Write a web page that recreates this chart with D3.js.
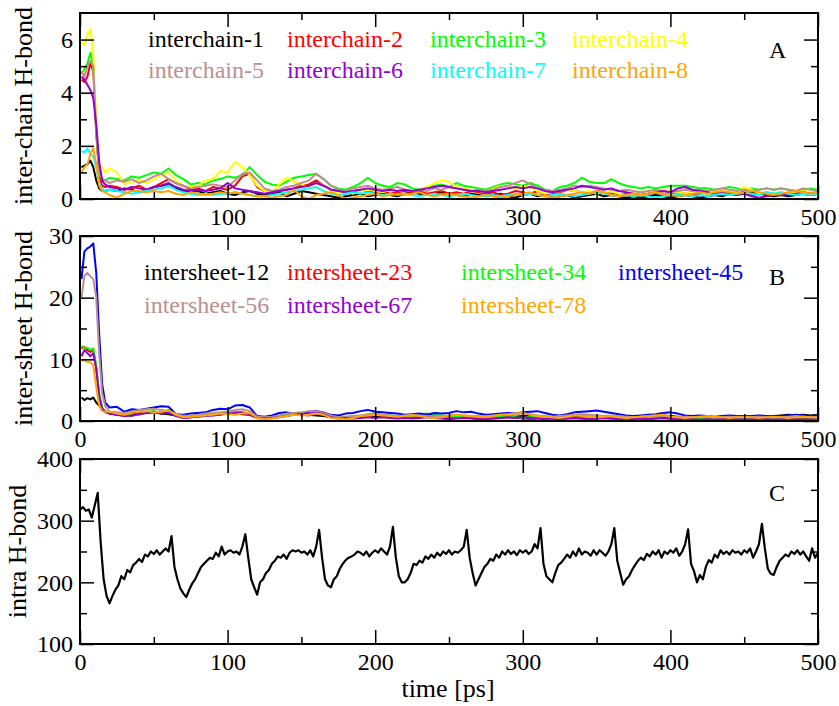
<!DOCTYPE html>
<html>
<head>
<meta charset="utf-8">
<script src="https://cdn.jsdelivr.net/npm/d3@7"></script>
<style>
  body { margin: 0; background: #fff; }
  text { font-family: "Liberation Serif", "Times New Roman", Times, serif; }
</style>
</head>
<body>
<svg id="chart" width="839" height="706"></svg>
<script>
// ---- time grids (ps) ----
const timeAB = [1, 3, 5, 7, 9, 11, 13, 15, 17, 20].concat(d3.range(25, 501, 5));
const timeC = d3.range(0, 501, 2);

// ---- axis ticks ----
const xMajorTicks = [0, 100, 200, 300, 400, 500];
const xMinorTicks = [50, 150, 250, 350, 450];
const yTicksA = [0, 2, 4, 6];
const yMinorA = [1, 3, 5];
const yTicksB = [0, 10, 20, 30];
const yMinorB = [5, 15, 25];
const yTicksC = [100, 200, 300, 400];
const yMinorC = [150, 250, 350];

// ---- panel A: inter-chain H-bonds ----
const interchainNames = ["interchain-1", "interchain-2", "interchain-3", "interchain-4",
                         "interchain-5", "interchain-6", "interchain-7", "interchain-8"];
const interchainColors = ["#000000", "#ff0000", "#00ff00", "#ffff00",
                          "#bc8f8f", "#9400d3", "#00ffff", "#ffa500"];

const interchain1 = [1.2, 1.25, 1.3, 1.45, 1.2, 0.7, 0.4, 0.3, 0.3, 0.35,
  0.3, 0.4, 0.35, 0.25, 0.3, 0.45, 0.5, 0.55, 0.4, 0.3,
  0.25, 0.3, 0.2, 0.25, 0.3, 0.2, 0.15, 0.25, 0.3, 0.2,
  0.15, 0.2, 0.25, 0.1, 0.2, 0.3, 0.25, 0.2, 0.15, 0.1,
  0.05, 0.1, 0.15, 0.2, 0.1, 0.15, 0.2, 0.15, 0.1, 0.2,
  0.25, 0.2, 0.15, 0.2, 0.25, 0.2, 0.15, 0.1, 0.2, 0.15,
  0.1, 0.15, 0.2, 0.1, 0.05, 0.15, 0.2, 0.1, 0.15, 0.05,
  0.1, 0.15, 0.05, 0.1, 0.15, 0.2, 0.1, 0.15, 0.1, 0.05,
  0.1, 0.05, 0.1, 0.15, 0.1, 0.05, 0.1, 0.15, 0.1, 0.05,
  0.1, 0.15, 0.1, 0.2, 0.15, 0.3, 0.25, 0.2, 0.15, 0.1,
  0.15, 0.1, 0.15, 0.2, 0.15, 0.2];
const interchain2 = [4.5, 4.4, 4.6, 5.1, 4.8, 2.5, 0.9, 0.5, 0.45, 0.5,
  0.45, 0.35, 0.4, 0.5, 0.35, 0.45, 0.6, 0.75, 0.6, 0.5,
  0.35, 0.4, 0.3, 0.45, 0.4, 0.35, 0.5, 0.85, 0.95, 0.45,
  0.3, 0.25, 0.3, 0.35, 0.4, 0.5, 0.55, 0.7, 0.5, 0.35,
  0.3, 0.25, 0.3, 0.35, 0.3, 0.25, 0.3, 0.2, 0.25, 0.3,
  0.25, 0.3, 0.2, 0.25, 0.3, 0.2, 0.25, 0.2, 0.3, 0.25,
  0.2, 0.25, 0.15, 0.2, 0.3, 0.25, 0.2, 0.3, 0.15, 0.2,
  0.25, 0.35, 0.3, 0.25, 0.2, 0.3, 0.25, 0.2, 0.15, 0.2,
  0.2, 0.15, 0.2, 0.25, 0.2, 0.15, 0.25, 0.2, 0.15, 0.2,
  0.25, 0.2, 0.15, 0.2, 0.25, 0.2, 0.15, 0.2, 0.25, 0.2,
  0.15, 0.2, 0.25, 0.2, 0.15, 0.2];
const interchain3 = [4.7, 4.9, 5.1, 5.5, 5.0, 2.5, 0.9, 0.75, 0.7, 0.8,
  0.75, 0.7, 0.85, 0.8, 0.9, 1.0, 0.95, 1.15, 0.9, 0.75,
  0.55, 0.6, 0.55, 0.7, 0.75, 0.85, 0.8, 0.9, 1.2, 0.9,
  0.65, 0.55, 0.5, 0.65, 0.8, 0.85, 0.9, 0.95, 0.75, 0.5,
  0.4, 0.35, 0.45, 0.6, 0.8, 0.6, 0.5, 0.45, 0.6, 0.55,
  0.4, 0.35, 0.45, 0.5, 0.55, 0.45, 0.6, 0.5, 0.45, 0.4,
  0.35, 0.45, 0.55, 0.6, 0.55, 0.5, 0.6, 0.5, 0.35, 0.3,
  0.45, 0.5, 0.6, 0.8, 0.65, 0.6, 0.6, 0.75, 0.6, 0.5,
  0.45, 0.4, 0.45, 0.4, 0.45, 0.5, 0.5, 0.5, 0.45, 0.4,
  0.4, 0.35, 0.4, 0.45, 0.4, 0.35, 0.4, 0.35, 0.4, 0.35,
  0.4, 0.35, 0.3, 0.35, 0.4, 0.35];
const interchain4 = [5.9, 5.8, 6.2, 6.4, 5.5, 3.0, 1.2, 1.2, 1.0, 1.15,
  1.0, 0.55, 0.65, 0.7, 0.6, 0.75, 0.9, 1.0, 0.7, 0.5,
  0.45, 0.5, 0.7, 0.75, 1.05, 1.0, 1.4, 1.2, 0.9, 0.5,
  0.3, 0.25, 0.55, 0.8, 0.65, 0.55, 0.45, 0.6, 0.5, 0.3,
  0.25, 0.3, 0.2, 0.3, 0.35, 0.3, 0.25, 0.35, 0.3, 0.35,
  0.3, 0.35, 0.45, 0.6, 0.7, 0.65, 0.45, 0.4, 0.35, 0.3,
  0.25, 0.4, 0.5, 0.45, 0.4, 0.5, 0.45, 0.3, 0.2, 0.25,
  0.3, 0.35, 0.3, 0.25, 0.3, 0.2, 0.25, 0.3, 0.2, 0.15,
  0.2, 0.25, 0.3, 0.25, 0.35, 0.3, 0.25, 0.2, 0.3, 0.25,
  0.2, 0.3, 0.25, 0.3, 0.25, 0.45, 0.35, 0.2, 0.25, 0.2,
  0.25, 0.2, 0.25, 0.3, 0.25, 0.3];
const interchain5 = [4.8, 4.6, 5.0, 5.2, 5.0, 2.6, 1.0, 0.75, 0.7, 0.6,
  0.7, 0.65, 0.75, 0.6, 0.7, 0.85, 0.95, 0.75, 0.6, 0.5,
  0.4, 0.45, 0.5, 0.55, 0.5, 0.45, 0.7, 0.95, 1.0, 0.7,
  0.4, 0.3, 0.35, 0.45, 0.5, 0.6, 0.7, 0.95, 0.75, 0.5,
  0.35, 0.3, 0.4, 0.45, 0.5, 0.4, 0.35, 0.4, 0.45, 0.35,
  0.3, 0.35, 0.3, 0.4, 0.35, 0.45, 0.4, 0.35, 0.3, 0.35,
  0.3, 0.35, 0.45, 0.5, 0.6, 0.7, 0.55, 0.4, 0.35, 0.3,
  0.35, 0.4, 0.5, 0.45, 0.5, 0.45, 0.4, 0.35, 0.3, 0.35,
  0.3, 0.25, 0.3, 0.35, 0.3, 0.25, 0.3, 0.35, 0.3, 0.35,
  0.3, 0.35, 0.4, 0.35, 0.3, 0.35, 0.3, 0.35, 0.4, 0.35,
  0.4, 0.35, 0.3, 0.4, 0.35, 0.3];
const interchain6 = [4.6, 4.5, 4.3, 4.1, 3.8, 2.8, 1.4, 0.7, 0.55, 0.45,
  0.4, 0.35, 0.45, 0.4, 0.35, 0.45, 0.5, 0.6, 0.45, 0.35,
  0.3, 0.35, 0.3, 0.35, 0.4, 0.6, 0.4, 0.35, 0.3, 0.25,
  0.2, 0.25, 0.3, 0.35, 0.4, 0.45, 0.5, 0.6, 0.5, 0.35,
  0.3, 0.25, 0.3, 0.35, 0.4, 0.35, 0.3, 0.35, 0.3, 0.35,
  0.3, 0.35, 0.4, 0.45, 0.5, 0.45, 0.4, 0.35, 0.3, 0.3,
  0.25, 0.3, 0.35, 0.4, 0.45, 0.4, 0.45, 0.4, 0.3, 0.25,
  0.3, 0.35, 0.4, 0.5, 0.45, 0.4, 0.35, 0.4, 0.3, 0.25,
  0.2, 0.15, 0.2, 0.25, 0.3, 0.25, 0.4, 0.45, 0.35, 0.3,
  0.25, 0.2, 0.25, 0.2, 0.15, 0.2, 0.1, 0.05, 0.1, 0.15,
  0.2, 0.15, 0.2, 0.25, 0.2, 0.25];
const interchain7 = [1.8, 1.75, 1.9, 1.7, 1.6, 1.2, 0.6, 0.4, 0.3, 0.35,
  0.3, 0.25, 0.2, 0.25, 0.3, 0.35, 0.4, 0.5, 0.35, 0.25,
  0.2, 0.15, 0.2, 0.15, 0.2, 0.2, 0.25, 0.2, 0.15, 0.1,
  0.1, 0.15, 0.2, 0.25, 0.3, 0.35, 0.4, 0.45, 0.3, 0.2,
  0.15, 0.2, 0.25, 0.2, 0.25, 0.2, 0.15, 0.2, 0.15, 0.2,
  0.15, 0.1, 0.15, 0.2, 0.15, 0.1, 0.15, 0.2, 0.15, 0.1,
  0.1, 0.15, 0.1, 0.15, 0.2, 0.15, 0.2, 0.15, 0.1, 0.15,
  0.2, 0.15, 0.1, 0.15, 0.2, 0.25, 0.2, 0.15, 0.1, 0.15,
  0.1, 0.15, 0.1, 0.05, 0.1, 0.15, 0.2, 0.15, 0.1, 0.15,
  0.1, 0.15, 0.2, 0.15, 0.2, 0.25, 0.2, 0.15, 0.25, 0.2,
  0.25, 0.2, 0.15, 0.2, 0.15, 0.2];
const interchain8 = [1.0, 1.2, 1.3, 1.7, 1.9, 1.3, 0.5, 0.3, 0.25, 0.15,
  0.05, 0.2, 0.3, 0.3, 0.25, 0.3, 0.25, 0.3, 0.2, 0.15,
  0.25, 0.2, 0.15, 0.2, 0.25, 0.2, 0.25, 0.2, 0.15, 0.1,
  0.1, 0.05, 0.1, 0.15, 0.35, 0.1, 0.0, 0.15, 0.2, 0.25,
  0.15, 0.0, 0.05, 0.1, 0.15, 0.2, 0.1, 0.15, 0.2, 0.15,
  0.2, 0.25, 0.15, 0.1, 0.15, 0.2, 0.15, 0.1, 0.05, 0.1,
  0.15, 0.1, 0.05, 0.1, 0.15, 0.2, 0.25, 0.15, 0.1, 0.05,
  0.1, 0.15, 0.2, 0.25, 0.2, 0.3, 0.25, 0.15, 0.1, 0.15,
  0.2, 0.15, 0.2, 0.25, 0.2, 0.15, 0.1, 0.15, 0.2, 0.25,
  0.2, 0.25, 0.3, 0.25, 0.2, 0.25, 0.3, 0.25, 0.2, 0.15,
  0.2, 0.25, 0.3, 0.25, 0.2, 0.25];

// ---- panel B: inter-sheet H-bonds ----
const intersheetNames = ["intersheet-12", "intersheet-23", "intersheet-34", "intersheet-45",
                         "intersheet-56", "intersheet-67", "intersheet-78"];
const intersheetColors = ["#000000", "#ff0000", "#00ff00", "#0000ff",
                          "#bc8f8f", "#9400d3", "#ffa500"];

const intersheet12 = [3.8, 3.4, 3.7, 3.5, 3.8, 3.0, 2.5, 1.8, 1.5, 1.3,
  1.0, 0.9, 1.1, 1.2, 1.3, 1.4, 1.2, 1.1, 0.9, 0.7,
  0.8, 0.9, 1.0, 1.1, 1.2, 1.3, 1.2, 1.1, 1.0, 0.6,
  0.5, 0.6, 0.8, 1.0, 1.2, 1.1, 1.0, 0.9, 0.8, 0.6,
  0.5, 0.6, 0.7, 0.8, 0.9, 0.8, 0.7, 0.8, 0.7, 0.6,
  0.7, 0.8, 0.7, 0.6, 0.7, 0.8, 0.9, 0.8, 0.7, 0.6,
  0.7, 0.8, 0.9, 0.8, 0.7, 0.8, 0.9, 0.8, 0.7, 0.6,
  0.5, 0.6, 0.7, 0.8, 0.7, 0.6, 0.7, 0.8, 0.7, 0.6,
  0.5, 0.6, 0.7, 0.8, 0.9, 0.8, 0.7, 0.6, 0.5, 0.6,
  0.7, 0.6, 0.5, 0.6, 0.7, 0.8, 0.7, 0.6, 0.7, 0.8,
  0.9, 1.0, 0.9, 1.0, 0.9, 1.0];
const intersheet23 = [11.8, 12.0, 11.5, 11.2, 11.6, 8.5, 4.2, 2.0, 1.5, 1.2,
  1.0, 0.9, 0.8, 1.2, 1.4, 1.5, 1.2, 1.6, 0.9, 0.5,
  0.6, 0.8, 0.9, 1.0, 1.1, 1.2, 1.3, 1.2, 1.0, 0.5,
  0.4, 0.5, 0.7, 0.9, 1.1, 1.0, 0.9, 1.2, 1.0, 0.6,
  0.5, 0.4, 0.6, 0.7, 0.8, 1.0, 0.9, 0.8, 0.7, 0.6,
  0.5, 0.6, 0.7, 0.8, 0.7, 0.6, 0.5, 0.6, 0.5, 0.4,
  0.5, 0.4, 0.5, 0.6, 0.5, 0.4, 0.3, 0.4, 0.5, 0.4,
  0.3, 0.4, 0.5, 0.4, 0.3, 0.4, 0.5, 0.4, 0.3, 0.4,
  0.5, 0.4, 0.3, 0.4, 0.5, 0.4, 0.3, 0.4, 0.3, 0.4,
  0.3, 0.4, 0.3, 0.2, 0.3, 0.4, 0.3, 0.2, 0.3, 0.4,
  0.3, 0.4, 0.3, 0.4, 0.3, 0.4];
const intersheet34 = [12.2, 11.8, 11.9, 11.5, 11.8, 9.0, 4.5, 2.2, 1.6, 1.4,
  1.2, 1.1, 0.9, 1.0, 1.5, 1.6, 1.3, 1.8, 1.0, 0.6,
  0.8, 1.0, 1.1, 0.9, 1.2, 1.3, 1.5, 1.4, 1.2, 0.6,
  0.5, 0.6, 0.8, 1.0, 1.3, 1.1, 1.0, 1.4, 1.2, 0.8,
  0.5, 0.6, 0.7, 0.8, 1.1, 1.2, 1.0, 0.9, 0.8, 0.7,
  0.8, 1.0, 1.2, 1.0, 0.9, 0.8, 0.7, 0.6, 0.7, 0.8,
  0.7, 0.6, 0.7, 0.8, 0.6, 0.5, 0.6, 0.7, 0.5, 0.4,
  0.5, 0.6, 0.5, 0.4, 0.5, 0.6, 0.5, 0.4, 0.5, 0.6,
  0.5, 0.4, 0.5, 0.6, 0.5, 0.4, 0.3, 0.4, 0.5, 0.4,
  0.3, 0.4, 0.5, 0.4, 0.3, 0.4, 0.5, 0.4, 0.3, 0.4,
  0.5, 0.4, 0.5, 0.6, 0.5, 0.4];
const intersheet45 = [23.0, 27.5, 28.0, 28.3, 28.8, 24.0, 14.0, 6.0, 3.0, 2.2,
  2.3, 1.5, 1.9, 1.8, 2.0, 2.2, 2.4, 2.3, 1.1, 1.0,
  1.2, 1.3, 1.4, 1.8, 2.0, 1.9, 2.5, 2.6, 2.2, 0.8,
  0.7, 0.9, 1.3, 1.4, 1.2, 1.3, 1.5, 1.6, 1.4, 1.0,
  0.9, 1.2, 1.3, 1.6, 1.8, 1.5, 1.4, 1.3, 1.2, 1.0,
  1.1, 1.2, 1.0, 1.3, 1.2, 1.3, 1.6, 1.4, 1.5, 1.2,
  1.0, 1.1, 1.2, 1.3, 1.2, 1.4, 1.5, 1.6, 1.3, 1.0,
  0.9, 1.1, 1.4, 1.5, 1.6, 1.7, 1.5, 1.3, 1.1, 0.9,
  0.8, 0.9, 1.0, 1.1, 1.3, 1.4, 1.2, 0.9, 0.8, 0.9,
  0.8, 0.7, 0.8, 0.9, 0.8, 0.7, 0.8, 0.9, 0.8, 0.7,
  0.8, 0.9, 1.0, 0.9, 0.8, 0.9];
const intersheet56 = [20.0, 23.5, 24.0, 23.5, 23.0, 20.0, 11.0, 4.5, 2.5, 1.5,
  1.4, 1.3, 1.5, 1.8, 1.9, 2.0, 1.8, 1.6, 1.2, 0.8,
  0.9, 1.0, 1.2, 1.3, 1.4, 1.5, 1.8, 1.9, 1.6, 0.7,
  0.6, 0.7, 0.9, 1.2, 1.3, 1.4, 1.6, 1.5, 1.3, 0.9,
  0.6, 0.7, 0.8, 0.9, 1.0, 1.1, 1.0, 0.9, 0.8, 0.9,
  1.0, 0.9, 0.8, 0.7, 0.8, 0.9, 1.0, 0.9, 0.8, 0.7,
  0.8, 0.9, 1.0, 0.9, 1.1, 1.2, 1.1, 0.9, 0.8, 0.7,
  0.8, 0.9, 1.0, 1.1, 1.0, 0.9, 0.8, 0.9, 0.8, 0.7,
  0.6, 0.7, 0.8, 0.9, 0.8, 0.7, 0.6, 0.7, 0.6, 0.7,
  0.6, 0.5, 0.6, 0.7, 0.6, 0.5, 0.6, 0.7, 0.6, 0.5,
  0.6, 0.7, 0.8, 0.7, 0.6, 0.7];
const intersheet67 = [10.5, 11.5, 11.0, 10.5, 11.0, 8.5, 4.0, 2.0, 1.5, 1.2,
  1.0, 0.8, 0.9, 1.1, 1.3, 1.5, 1.2, 1.4, 0.8, 0.5,
  0.6, 0.7, 0.8, 0.9, 1.0, 1.2, 1.3, 1.4, 1.1, 0.5,
  0.4, 0.5, 0.6, 0.8, 1.0, 1.1, 1.2, 1.3, 1.1, 0.6,
  0.4, 0.5, 0.4, 0.5, 0.6, 0.5, 0.6, 0.5, 0.4, 0.5,
  0.4, 0.5, 0.6, 0.5, 0.4, 0.3, 0.4, 0.5, 0.4, 0.3,
  0.3, 0.4, 0.5, 0.6, 0.5, 0.6, 0.5, 0.4, 0.3, 0.4,
  0.3, 0.4, 0.5, 0.4, 0.3, 0.4, 0.5, 0.4, 0.3, 0.4,
  0.3, 0.4, 0.3, 0.4, 0.5, 0.4, 0.3, 0.4, 0.3, 0.2,
  0.3, 0.2, 0.3, 0.4, 0.3, 0.2, 0.3, 0.4, 0.3, 0.2,
  0.3, 0.4, 0.3, 0.2, 0.3, 0.4];
const intersheet78 = [9.9, 9.8, 9.6, 9.5, 9.0, 5.5, 2.5, 1.6, 1.5, 1.5,
  1.2, 1.0, 1.3, 1.5, 1.6, 1.4, 1.5, 1.7, 1.0, 0.6,
  0.7, 0.8, 0.9, 1.0, 1.2, 1.1, 1.0, 1.2, 1.3, 0.5,
  0.3, 0.4, 0.6, 0.8, 1.0, 0.9, 1.0, 1.2, 1.0, 0.5,
  0.4, 0.3, 0.5, 0.8, 0.9, 1.0, 0.9, 0.8, 0.7, 0.8,
  0.9, 0.8, 0.6, 0.5, 0.6, 0.8, 1.0, 0.9, 0.8, 0.7,
  0.6, 0.8, 1.0, 1.1, 1.2, 1.3, 1.0, 0.8, 0.7, 0.6,
  0.5, 0.7, 0.9, 0.8, 0.7, 0.6, 0.7, 0.8, 0.6, 0.5,
  0.6, 0.7, 0.8, 0.9, 1.0, 0.7, 0.6, 0.5, 0.6, 0.7,
  0.8, 0.7, 0.6, 0.5, 0.6, 0.7, 0.6, 0.5, 0.6, 0.7,
  0.6, 0.5, 0.6, 0.7, 0.6, 0.5];

// ---- panel C: intra-molecular H-bonds ----
const intraHbond = [
  318, 322, 316, 318, 305, 325, 345, 265, 205, 178, 166, 178, 188, 195, 210, 205, 220, 216, 228, 232, 238, 233, 245, 242, 250,
  246, 252, 245, 250, 255, 250, 275, 225, 205, 190, 182, 176, 188, 198, 205, 215, 225, 230, 235, 240, 238, 248, 242, 258, 245,
  250, 252, 248, 250, 245, 258, 278, 240, 205, 192, 180, 200, 205, 215, 220, 230, 235, 242, 240, 245, 238, 248, 252, 250, 252,
  248, 250, 245, 252, 242, 258, 285, 240, 205, 195, 192, 205, 210, 222, 230, 236, 240, 242, 245, 250, 248, 244, 250, 242, 248,
  252, 248, 255, 250, 245, 258, 290, 240, 210, 200, 200, 205, 215, 230, 228, 235, 232, 242, 238, 245, 240, 248, 243, 250, 246,
  252, 245, 250, 248, 252, 258, 285, 240, 215, 195, 205, 215, 225, 230, 238, 235, 245, 240, 250, 245, 252, 246, 250, 244, 252,
  248, 252, 246, 250, 262, 255, 288, 230, 210, 205, 200, 215, 228, 232, 238, 245, 240, 250, 243, 255, 245, 250, 248, 243, 252,
  245, 252, 248, 243, 250, 262, 288, 235, 215, 196, 205, 210, 220, 228, 235, 240, 236, 246, 242, 250, 245, 252, 240, 250, 246,
  252, 248, 255, 243, 250, 262, 286, 230, 218, 200, 212, 205, 225, 236, 232, 245, 240, 252, 246, 250, 245, 252, 248, 250, 245,
  252, 248, 255, 240, 250, 262, 295, 255, 222, 214, 212, 225, 235, 240, 245, 242, 250, 246, 252, 245, 250, 242, 235, 255, 240, 248
];

const svg = d3.select("#chart");
const x = d3.scaleLinear().domain([0, 500]).range([80, 818]);

function drawPanel(cfg) {
  const y = d3.scaleLinear().domain(cfg.yDomain).range([cfg.bottom, cfg.top]);
  const g = svg.append("g");

  const line = d3.line()
    .x((d, i) => x(cfg.time[i]))
    .y(d => y(d));

  cfg.series.forEach((vals, i) => {
    g.append("path")
      .datum(vals)
      .attr("d", line)
      .attr("fill", "none")
      .attr("stroke", cfg.colors[i])
      .attr("stroke-width", cfg.lineWidth)
      .attr("stroke-linejoin", "round");
  });

  const fmtX = cfg.showZeroX ? d3.format("d") : (d => d === 0 ? "" : d3.format("d")(d));

  // bottom: labelled major ticks + minor ticks
  const gb = g.append("g").attr("transform", `translate(0,${cfg.bottom})`)
    .call(d3.axisBottom(x).tickValues(xMajorTicks).tickSizeInner(-14).tickSizeOuter(0)
      .tickPadding(9).tickFormat(fmtX));
  const gbm = g.append("g").attr("transform", `translate(0,${cfg.bottom})`)
    .call(d3.axisBottom(x).tickValues(xMinorTicks).tickSizeInner(-7).tickSizeOuter(0).tickFormat(""));
  // top mirror
  const gt = g.append("g").attr("transform", `translate(0,${cfg.top})`)
    .call(d3.axisTop(x).tickValues(xMajorTicks).tickSizeInner(-14).tickSizeOuter(0).tickFormat(""));
  const gtm = g.append("g").attr("transform", `translate(0,${cfg.top})`)
    .call(d3.axisTop(x).tickValues(xMinorTicks).tickSizeInner(-7).tickSizeOuter(0).tickFormat(""));
  // left: labelled
  const gl = g.append("g").attr("transform", `translate(80,0)`)
    .call(d3.axisLeft(y).tickValues(cfg.yTicks).tickSizeInner(-14).tickSizeOuter(0)
      .tickPadding(7).tickFormat(d3.format("d")));
  const glm = g.append("g").attr("transform", `translate(80,0)`)
    .call(d3.axisLeft(y).tickValues(cfg.yMinor).tickSizeInner(-7).tickSizeOuter(0).tickFormat(""));
  // right mirror
  const gr = g.append("g").attr("transform", `translate(818,0)`)
    .call(d3.axisRight(y).tickValues(cfg.yTicks).tickSizeInner(-14).tickSizeOuter(0).tickFormat(""));
  const grm = g.append("g").attr("transform", `translate(818,0)`)
    .call(d3.axisRight(y).tickValues(cfg.yMinor).tickSizeInner(-7).tickSizeOuter(0).tickFormat(""));

  [gb, gbm, gt, gtm, gl, glm, gr, grm].forEach(a => {
    a.select(".domain").remove();
    a.selectAll(".tick line").attr("stroke", "#000").attr("stroke-width", 1.5);
    a.selectAll(".tick text")
      .attr("fill", "#000")
      .style("font-family", '"Liberation Serif", "Times New Roman", serif')
      .style("font-size", "24px");
  });

  // frame
  g.append("rect")
    .attr("x", 80).attr("y", cfg.top)
    .attr("width", 818 - 80).attr("height", cfg.bottom - cfg.top)
    .attr("fill", "none").attr("stroke", "#000").attr("stroke-width", 2);

  // axis title
  g.append("text")
    .attr("transform", `translate(${cfg.titleX},${(cfg.top + cfg.bottom) / 2}) rotate(-90)`)
    .attr("text-anchor", "middle")
    .style("font-size", "26px")
    .text(cfg.title);

  // panel letter
  g.append("text")
    .attr("x", 769).attr("y", cfg.letterY)
    .style("font-size", "24px")
    .text(cfg.letter);

  // legend
  if (cfg.legend) {
    cfg.legend.names.forEach((name, i) => {
      const col = i % 4, row = Math.floor(i / 4);
      g.append("text")
        .attr("x", cfg.legend.cols[col])
        .attr("y", cfg.legend.rows[row])
        .attr("fill", cfg.colors[i])
        .style("font-size", "24px")
        .text(name);
    });
  }
}

drawPanel({
  top: 13, bottom: 199, yDomain: [0, 7], yTicks: yTicksA, yMinor: yMinorA,
  time: timeAB,
  series: [interchain1, interchain2, interchain3, interchain4,
           interchain5, interchain6, interchain7, interchain8],
  colors: interchainColors, lineWidth: 2,
  showZeroX: false, title: "inter-chain H-bond", titleX: 32, letter: "A", letterY: 58,
  legend: { names: interchainNames, cols: [148, 287, 430, 572], rows: [47, 78] }
});

drawPanel({
  top: 236, bottom: 421, yDomain: [0, 30], yTicks: yTicksB, yMinor: yMinorB,
  time: timeAB,
  series: [intersheet12, intersheet23, intersheet34, intersheet45,
           intersheet56, intersheet67, intersheet78],
  colors: intersheetColors, lineWidth: 2,
  showZeroX: true, title: "inter-sheet H-bond", titleX: 32, letter: "B", letterY: 285,
  legend: { names: intersheetNames, cols: [144, 287, 461, 618], rows: [280, 313] }
});

drawPanel({
  top: 459, bottom: 644, yDomain: [100, 400], yTicks: yTicksC, yMinor: yMinorC,
  time: timeC,
  series: [intraHbond],
  colors: ["#000000"], lineWidth: 2.2,
  showZeroX: true, title: "intra H-bond", titleX: 26, letter: "C", letterY: 501,
  legend: null
});

svg.append("text")
  .attr("x", 448).attr("y", 697)
  .attr("text-anchor", "middle")
  .style("font-size", "26px")
  .text("time [ps]");
</script>
</body>
</html>
